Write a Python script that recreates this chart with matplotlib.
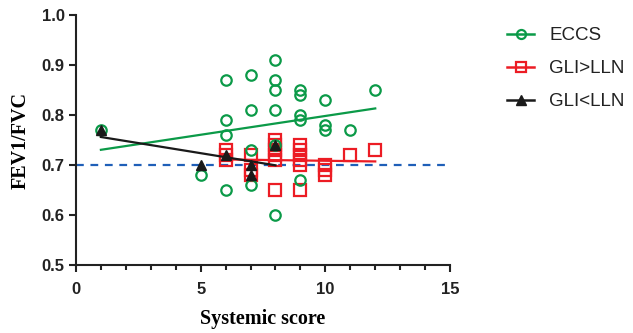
import numpy as np
import matplotlib.pyplot as plt
from matplotlib.lines import Line2D

# ECCS group
eccs_x = [1, 5, 6, 6, 6, 6, 7, 7, 7, 7, 8, 8, 8, 8, 8, 8, 9, 9, 9, 9, 9, 10, 10, 10, 11, 12]
eccs_y = [0.77, 0.68, 0.87, 0.79, 0.76, 0.65, 0.88, 0.81, 0.73, 0.66, 0.91, 0.87, 0.85, 0.81,
          0.74, 0.60, 0.85, 0.84, 0.80, 0.79, 0.67, 0.83, 0.78, 0.77, 0.77, 0.85]

# GLI > LLN group
hi_x = [6, 6, 6, 7, 7, 7, 8, 8, 8, 8, 8, 8, 9, 9, 9, 9, 9, 9, 10, 10, 10, 11, 12]
hi_y = [0.73, 0.72, 0.71, 0.72, 0.69, 0.68, 0.75, 0.74, 0.73, 0.72, 0.71, 0.65,
        0.74, 0.73, 0.72, 0.71, 0.70, 0.65, 0.70, 0.69, 0.68, 0.72, 0.73]

# GLI < LLN group
lo_x = [1, 5, 6, 7, 7, 8]
lo_y = [0.77, 0.70, 0.72, 0.70, 0.68, 0.74]

cutoff = 0.7

GREEN = '#0b9a48'
RED = '#ec1c24'
BLACK = '#1a1a1a'
BLUE = '#1f5fb8'

TICK_FONT = 'Liberation Sans'
LABEL_FONT = 'Liberation Serif'

fig = plt.figure(figsize=(6.33, 3.33), dpi=100)
ax = fig.add_axes([0.120, 0.204, 0.591, 0.751])


def fit_line(x, y, color, z):
    x = np.asarray(x, float)
    y = np.asarray(y, float)
    k, b = np.polyfit(x, y, 1)
    xs = np.array([x.min(), x.max()])
    ax.plot(xs, k * xs + b, color=color, lw=1.6, zorder=z)


ax.axhline(cutoff, color=BLUE, lw=1.6, ls=(0, (3.5, 3)), zorder=1)

ax.plot(hi_x, hi_y, ls='none', marker='s', ms=8, mfc='none', mec=RED, mew=1.6, zorder=3, clip_on=False)
fit_line(hi_x, hi_y, RED, 3)
ax.plot(eccs_x, eccs_y, ls='none', marker='o', ms=7.5, mfc='none', mec=GREEN, mew=1.6, zorder=4, clip_on=False)
fit_line(eccs_x, eccs_y, GREEN, 4)
ax.plot(lo_x, lo_y, ls='none', marker='^', ms=6.5, color=BLACK, zorder=5, clip_on=False)
fit_line(lo_x, lo_y, BLACK, 5)

ax.set_xlim(0, 15)
ax.set_ylim(0.5, 1.0)
ax.set_xticks([0, 5, 10, 15])
ax.set_xticks(np.arange(0, 16, 1), minor=True)
ax.set_yticks(np.arange(0.5, 1.01, 0.1))
ax.set_yticklabels(['%.1f' % v for v in np.arange(0.5, 1.01, 0.1)])

for s in ['top', 'right']:
    ax.spines[s].set_visible(False)
for s in ['left', 'bottom']:
    ax.spines[s].set_linewidth(1.5)
    ax.spines[s].set_color('#222222')

ax.tick_params(axis='both', which='major', length=5, width=1.5, color='#222222', pad=3)
ax.tick_params(axis='x', which='major', pad=7)
ax.tick_params(axis='x', which='minor', length=3.5, width=1.5, color='#222222')
for lab in ax.get_xticklabels() + ax.get_yticklabels():
    lab.set_fontfamily(TICK_FONT)
    lab.set_fontweight('bold')
    lab.set_fontsize(12)
    lab.set_color('#222222')

ax.set_xlabel('Systemic score', fontfamily=LABEL_FONT, fontweight='bold', fontsize=14.5, labelpad=9)
ax.set_ylabel('FEV1/FVC', fontfamily=LABEL_FONT, fontweight='bold', fontsize=14.5, labelpad=8)

handles = [
    Line2D([], [], color=GREEN, lw=1.8, marker='o', ms=6.5, mfc='none', mew=1.6),
    Line2D([], [], color=RED, lw=1.8, marker='s', ms=7, mfc='none', mew=1.6),
    Line2D([], [], color=BLACK, lw=1.8, marker='^', ms=6.5),
]
fig.legend(handles, ['ECCS', 'GLI>LLN', 'GLI<LLN'], loc='upper left', bbox_to_anchor=(0.801, 0.918),
           frameon=False, borderpad=0, borderaxespad=0, handlelength=1.45, handletextpad=0.8,
           labelspacing=0.84, prop={'family': TICK_FONT, 'size': 13.5}, labelcolor='#222222',
           numpoints=1)

fig.savefig('out.png', dpi=100)
